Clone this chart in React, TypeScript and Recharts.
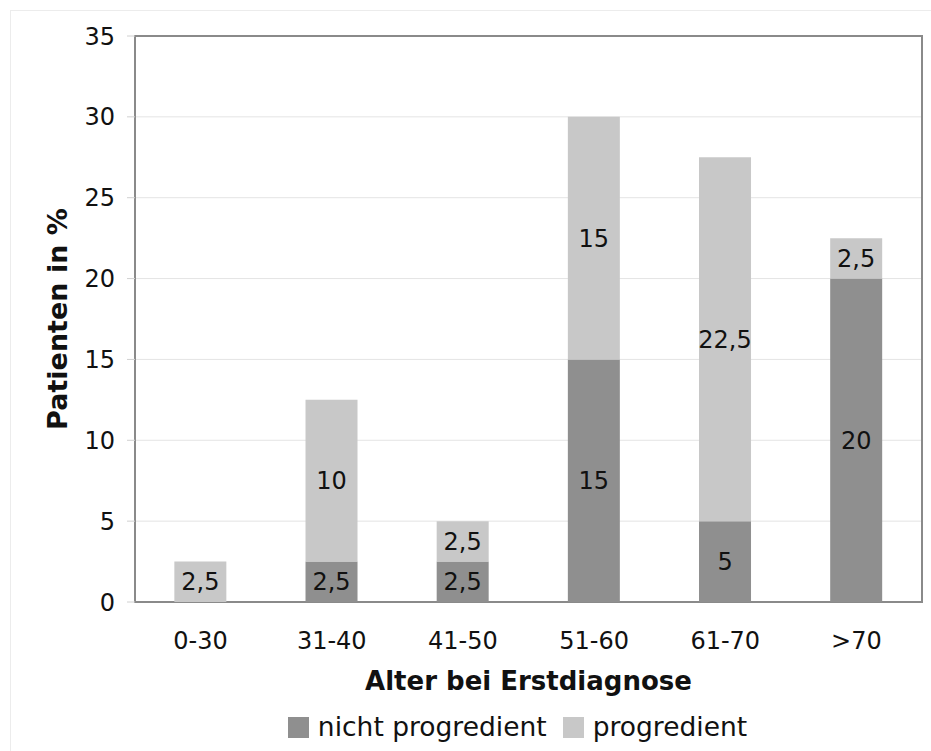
import React from 'react';
import {
  BarChart,
  Bar,
  XAxis,
  YAxis,
  CartesianGrid,
  LabelList,
  ReferenceArea,
} from 'recharts';

const categories = ['0-30', '31-40', '41-50', '51-60', '61-70', '>70'];
const nichtProgredient = [0, 2.5, 2.5, 15, 5, 20];
const progredient = [2.5, 10, 2.5, 15, 22.5, 2.5];
const yTicks = [0, 5, 10, 15, 20, 25, 30, 35];
const boundaryTicks = [0, 1, 2, 3, 4, 5, 6];

const DARK = '#8f8f8f';
const LIGHT = '#c8c8c8';
const FONT = '"DejaVu Sans", Verdana, sans-serif';

const data = categories.map((c, i) => ({
  name: c,
  idx: i + 0.5,
  nicht: nichtProgredient[i],
  prog: progredient[i],
}));

const fmt = (v: any) => (v ? String(v).replace('.', ',') : '');

function LegendBox() {
  const items = [
    { label: 'nicht progredient', color: DARK },
    { label: 'progredient', color: LIGHT },
  ];
  return (
    <div
      style={{
        position: 'absolute',
        left: 104,
        width: 827,
        top: 711,
        display: 'flex',
        justifyContent: 'center',
        fontFamily: FONT,
        fontSize: 26.5,
        color: '#111',
        lineHeight: '32px',
      }}
    >
      {items.map((it, i) => (
        <div key={it.label} style={{ display: 'flex', alignItems: 'center', marginLeft: i ? 16 : 0 }}>
          <span style={{ width: 21, height: 21, background: it.color, display: 'inline-block', marginRight: 9 }} />
          <span>{it.label}</span>
        </div>
      ))}
    </div>
  );
}

export default function App() {
  return (
    <div style={{ position: 'absolute', left: 0, top: 0, width: 931, height: 751, overflow: 'hidden', background: '#fff' }}>
      <div
        style={{
          position: 'absolute',
          left: 10,
          top: 10,
          width: 960,
          height: 800,
          border: '1px solid #ececec',
        }}
      />
      <div style={{ position: 'absolute', left: 0, top: 0 }}>
        <BarChart
          width={931}
          height={751}
          data={data}
          margin={{ top: 36, right: 9, bottom: 0, left: 0 }}
          barCategoryGap="30%"
        >
          <CartesianGrid horizontal vertical={false} stroke="#e4e4e4" xAxisId="cat" />
          <XAxis
            xAxisId="cat"
            dataKey="name"
            type="category"
            height={149}
            axisLine={false}
            tickLine={false}
            tickMargin={24}
            tick={{ fontSize: 24, fill: '#111', fontFamily: FONT }}
            label={{
              value: 'Alter bei Erstdiagnose',
              position: 'insideTop',
              offset: 70,
              style: { fontSize: 26, fontWeight: 'bold', fill: '#111', fontFamily: FONT },
            }}
          />
          <XAxis
            xAxisId="num"
            type="number"
            dataKey="idx"
            domain={[0, 6]}
            ticks={boundaryTicks}
            tick={false}
            axisLine={false}
            tickLine={{ stroke: '#d0d0d0' }}
            tickSize={8}
            height={0}
            orientation="bottom"
          />
          <YAxis
            width={135}
            domain={[0, 35]}
            ticks={yTicks}
            interval={0}
            axisLine={false}
            tickLine={{ stroke: '#d0d0d0' }}
            tickSize={8}
            tickMargin={12}
            tick={{ fontSize: 24, fill: '#111', fontFamily: FONT }}
            label={{
              value: 'Patienten in %',
              angle: -90,
              position: 'insideLeft',
              offset: 57,
              style: { textAnchor: 'middle', fontSize: 27, fontWeight: 'bold', fill: '#111', fontFamily: FONT },
            }}
          />
          <Bar dataKey="nicht" stackId="a" fill={DARK} xAxisId="cat" isAnimationActive={false}>
            <LabelList
              dataKey="nicht"
              position="center"
              formatter={fmt}
              style={{ fontSize: 24, fill: '#111', fontFamily: FONT }}
            />
          </Bar>
          <Bar dataKey="prog" stackId="a" fill={LIGHT} xAxisId="cat" isAnimationActive={false}>
            <LabelList
              dataKey="prog"
              position="center"
              formatter={fmt}
              style={{ fontSize: 24, fill: '#111', fontFamily: FONT }}
            />
          </Bar>
          <ReferenceArea
            xAxisId="num"
            x1={0}
            x2={6}
            y1={0}
            y2={35}
            fill="none"
            fillOpacity={0}
            stroke="#8a8a8a"
            strokeWidth={2}
            ifOverflow="visible"
          />
        </BarChart>
      </div>
      <LegendBox />
    </div>
  );
}
